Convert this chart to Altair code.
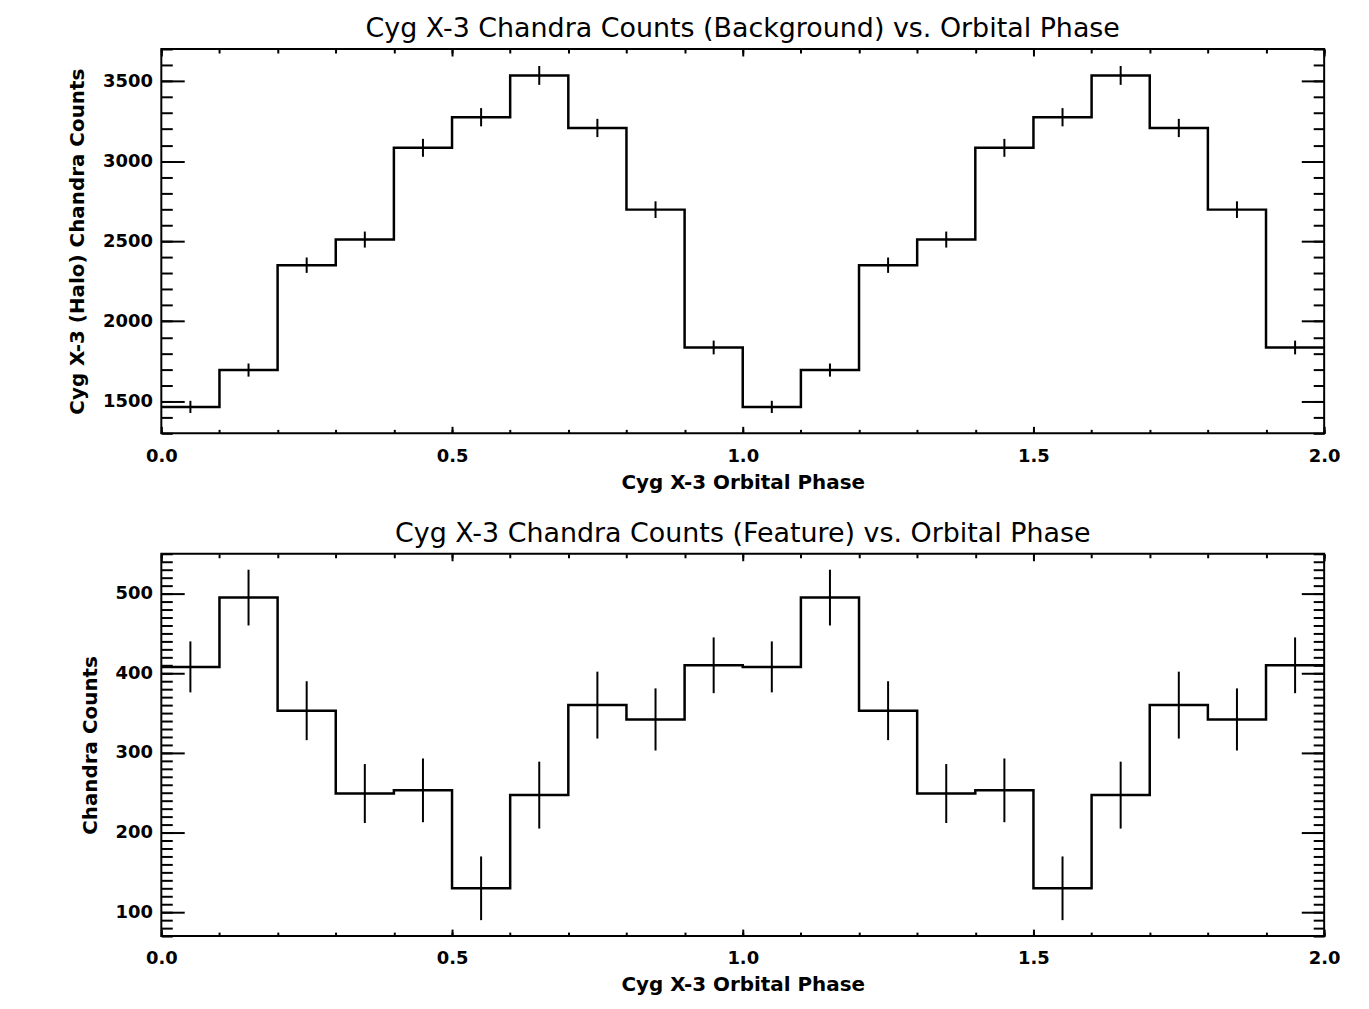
import altair as alt
import pandas as pd

# ---- data (two cycles of orbital phase, 20 bins) ----
phase_centers = [0.05, 0.15, 0.25, 0.35, 0.45, 0.55, 0.65, 0.75, 0.85, 0.95,
                 1.05, 1.15, 1.25, 1.35, 1.45, 1.55, 1.65, 1.75, 1.85, 1.95]

bg_counts = [1465, 1695, 2350, 2510, 3083, 3274, 3535, 3207, 2697, 1836,
             1465, 1695, 2350, 2510, 3083, 3274, 3535, 3207, 2697, 1836]
bg_errors = [38, 41, 48, 50, 56, 57, 59, 57, 52, 43,
             38, 41, 48, 50, 56, 57, 59, 57, 52, 43]

feat_counts = [408, 495, 353, 249, 253, 130, 247, 360, 342, 410,
               408, 495, 353, 249, 253, 130, 247, 360, 342, 410]
feat_errors = [32, 35, 37, 37, 40, 40, 42, 42, 39, 35,
               32, 35, 37, 37, 40, 40, 42, 42, 39, 35]

x_major = [0.0, 0.5, 1.0, 1.5, 2.0]
x_minor = [round(i * 0.1, 1) for i in range(21)]

bg_major = [1500, 2000, 2500, 3000, 3500]
bg_minor = list(range(1300, 3701, 100))
feat_major = [100, 200, 300, 400, 500]
feat_minor = list(range(70, 551, 10))

FONT = "DejaVu Sans"


def step_frame(counts):
    edges = [round(c - 0.05, 2) for c in phase_centers] + [2.0]
    vals = list(counts) + [counts[-1]]
    return pd.DataFrame({"phase": edges, "counts": vals})


def err_frame(counts, errors):
    return pd.DataFrame({
        "phase": phase_centers,
        "lo": [c - e for c, e in zip(counts, errors)],
        "hi": [c + e for c, e in zip(counts, errors)],
    })


def panel(title, counts, errors, ydomain, ymajor, yminor, ytitle, height):
    xs = alt.Scale(domain=[0, 2], nice=False, zero=False)
    ys = alt.Scale(domain=ydomain, nice=False, zero=False)
    sdf = step_frame(counts)
    edf = err_frame(counts, errors)

    line = alt.Chart(sdf).mark_line(
        interpolate="step-after", color="black", strokeWidth=2.5
    ).encode(
        x=alt.X("phase:Q", scale=xs, axis=alt.Axis(
            orient="bottom", values=x_major, format=".1f", tickSize=7,
            offset=-7, labelPadding=14, labelFlush=False,
            title="Cyg X-3 Orbital Phase", titlePadding=7)),
        y=alt.Y("counts:Q", scale=ys, axis=alt.Axis(
            orient="left", values=ymajor, format="d", tickSize=23,
            offset=-23, labelPadding=9, title=ytitle, titlePadding=15)),
    )

    err = alt.Chart(edf).mark_rule(color="black", strokeWidth=2).encode(
        x=alt.X("phase:Q", scale=xs, axis=alt.Axis(
            orient="bottom", values=x_minor, tickSize=4, offset=-4,
            labels=False, title=None)),
        y=alt.Y("lo:Q", scale=ys, axis=alt.Axis(
            orient="left", values=yminor, tickSize=11, offset=-11,
            labels=False, title=None)),
        y2="hi:Q",
    )

    opp_major = alt.Chart(edf).mark_point(opacity=0).encode(
        x=alt.X("phase:Q", scale=xs, axis=alt.Axis(
            orient="top", values=x_major, tickSize=7, offset=-7,
            labels=False, title=None)),
        y=alt.Y("lo:Q", scale=ys, axis=alt.Axis(
            orient="right", values=ymajor, tickSize=23, offset=-23,
            labels=False, title=None)),
    )

    opp_minor = alt.Chart(edf).mark_point(opacity=0).encode(
        x=alt.X("phase:Q", scale=xs, axis=alt.Axis(
            orient="top", values=x_minor, tickSize=4, offset=-4,
            labels=False, title=None)),
        y=alt.Y("lo:Q", scale=ys, axis=alt.Axis(
            orient="right", values=yminor, tickSize=11, offset=-11,
            labels=False, title=None)),
    )

    return alt.layer(line, err, opp_major, opp_minor).resolve_axis(
        x="independent", y="independent"
    ).properties(
        width=1168, height=height,
        title=alt.TitleParams(title, frame="group", anchor="middle",
                              font=FONT, fontSize=27, fontWeight="normal",
                              color="black", offset=5),
    )


top = panel("Cyg X-3 Chandra Counts (Background) vs. Orbital Phase",
            bg_counts, bg_errors, [1300, 3700], bg_major, bg_minor,
            "Cyg X-3 (Halo) Chandra Counts", 386)
bottom = panel("Cyg X-3 Chandra Counts (Feature) vs. Orbital Phase",
               feat_counts, feat_errors, [70, 550], feat_major, feat_minor,
               "Chandra Counts", 384)

chart = alt.vconcat(top, bottom, spacing=26).properties(
    padding={"left": 58, "top": 4, "right": 20, "bottom": 5},
    background="white",
).configure_axis(
    domain=False, grid=False, tickColor="black", tickWidth=2,
    labelFont=FONT, labelFontSize=18, labelFontWeight="bold",
    labelColor="black", titleFont=FONT, titleFontSize=20,
    titleFontWeight="bold", titleColor="black",
).configure_view(
    stroke="black", strokeWidth=2,
)

chart.save("out.html", embed_options={"renderer": "svg", "actions": False})
